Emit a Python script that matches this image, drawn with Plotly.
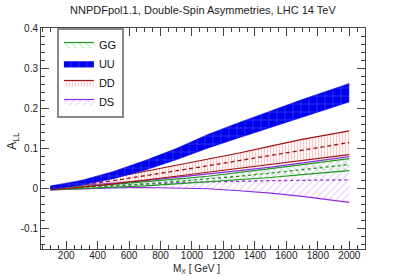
import plotly.graph_objects as go

# ---- data ----
M = [100, 300, 500, 700, 900, 1100, 1300, 1500, 1700, 2000]

UU_c  = [0.003, 0.015, 0.034, 0.058, 0.086, 0.118, 0.146, 0.173, 0.200, 0.239]
UU_lo = [-0.001, 0.009, 0.025, 0.046, 0.072, 0.101, 0.127, 0.152, 0.178, 0.216]
UU_hi = [0.007, 0.021, 0.043, 0.070, 0.100, 0.135, 0.165, 0.194, 0.222, 0.262]

DD_c  = [0.002, 0.010, 0.020, 0.032, 0.045, 0.057, 0.070, 0.083, 0.097, 0.115]
DD_lo = [-0.002, 0.004, 0.012, 0.021, 0.031, 0.041, 0.051, 0.061, 0.071, 0.085]
DD_hi = [0.006, 0.016, 0.028, 0.043, 0.058, 0.073, 0.089, 0.106, 0.123, 0.144]

GG_c  = [0.000, 0.003, 0.007, 0.012, 0.018, 0.024, 0.031, 0.039, 0.047, 0.060]
GG_lo = [-0.003, 0.000, 0.003, 0.007, 0.012, 0.017, 0.022, 0.028, 0.035, 0.045]
GG_hi = [0.003, 0.006, 0.011, 0.017, 0.024, 0.031, 0.040, 0.050, 0.060, 0.075]

DS_c  = [0.000, 0.004, 0.008, 0.012, 0.015, 0.017, 0.019, 0.020, 0.021, 0.022]
DS_lo = [-0.003, 0.000, 0.002, 0.003, 0.002, 0.000, -0.005, -0.011, -0.019, -0.034]
DS_hi = [0.003, 0.008, 0.014, 0.020, 0.028, 0.036, 0.045, 0.054, 0.064, 0.080]

x_ticks = [200, 400, 600, 800, 1000, 1200, 1400, 1600, 1800, 2000]
y_ticks = [-0.1, 0, 0.1, 0.2, 0.3, 0.4]
y_tick_text = ["-0.1", "0", "0.1", "0.2", "0.3", "0.4"]

FONT = "Liberation Sans, Arial, sans-serif"

fig = go.Figure()


def band(name, lo, hi, c, line_col, dash, pat_shape, pat_fg, pat_bg, pat_size,
         pat_sol, rank, edge_width=1.2, center_col=None):
    fig.add_trace(go.Scatter(x=M, y=lo, mode="lines",
                             line=dict(color=line_col, width=edge_width),
                             showlegend=False, hoverinfo="skip"))
    fig.add_trace(go.Scatter(x=M, y=hi, mode="lines", fill="tonexty",
                             fillcolor=pat_bg,
                             fillpattern=dict(shape=pat_shape, fgcolor=pat_fg,
                                              bgcolor=pat_bg, size=pat_size,
                                              solidity=pat_sol),
                             line=dict(color=line_col, width=edge_width),
                             name=name, legendrank=rank, hoverinfo="skip"))
    fig.add_trace(go.Scatter(x=M, y=c, mode="lines",
                             line=dict(color=center_col or line_col, width=1.3,
                                       dash=dash),
                             showlegend=False, hoverinfo="skip"))


band("DS", DS_lo, DS_hi, DS_c, "#8a2be2", "dot", "/", "#d9a0ff",
     "rgba(0,0,0,0)", 5, 0.25, 4)
band("GG", GG_lo, GG_hi, GG_c, "#1f9a1f", "dot", "\\", "#80e080",
     "rgba(0,0,0,0)", 5, 0.25, 1)
band("DD", DD_lo, DD_hi, DD_c, "#a01010", "4px,3px", "|", "#ff8c8c",
     "rgba(0,0,0,0)", 3, 0.4, 3)
band("UU", UU_lo, UU_hi, UU_c, "#0000ee", "solid", "+", "#9fb4ff",
     "#0000ee", 8, 0.12, 2, edge_width=0.5, center_col="rgba(0,0,0,0)")

axis_common = dict(
    showgrid=False, zeroline=False, showline=True, linecolor="#444",
    linewidth=1, mirror="allticks", ticks="inside", tickcolor="#444",
    ticklen=8, tickwidth=1, automargin=False,
    tickfont=dict(family=FONT, size=10, color="#222"),
)

fig.update_xaxes(range=[40, 2100], tickvals=x_ticks,
                 minor=dict(dtick=50, tick0=0, ticklen=4, ticks="inside",
                            tickcolor="#444", tickwidth=1),
                 **axis_common)
fig.update_yaxes(range=[-0.15, 0.4], tickvals=y_ticks, ticktext=y_tick_text,
                 minor=dict(dtick=0.02, tick0=0, ticklen=4, ticks="inside",
                            tickcolor="#444", tickwidth=1),
                 **axis_common)
try:
    fig.update_xaxes(ticklabelstandoff=-3)
except Exception:
    pass

fig.update_layout(
    width=407, height=276,
    margin=dict(l=41, r=42, t=28, b=27, autoexpand=False),
    paper_bgcolor="white", plot_bgcolor="white",
    showlegend=True,
    legend=dict(x=0.049, y=1.0, xanchor="left", yanchor="top",
                bordercolor="#888", borderwidth=2, bgcolor="white",
                font=dict(family=FONT, size=11, color="#111"),
                itemwidth=30, tracegroupgap=0,
                traceorder="normal"),
    annotations=[
        dict(text="NNPDFpol1.1, Double-Spin Asymmetries, LHC 14 TeV",
             xref="paper", yref="paper", x=0.5, y=1, yshift=18,
             xanchor="center", yanchor="middle", showarrow=False,
             font=dict(family=FONT, size=11, color="#222")),
        dict(text="M<sub>X</sub> [ GeV ]", xref="paper", yref="paper",
             x=0.48, y=0, yshift=-20, xanchor="center", yanchor="middle",
             showarrow=False, font=dict(family=FONT, size=10, color="#222")),
        dict(text="A<sub>LL</sub>", xref="paper", yref="paper", x=0,
             xshift=-28, y=0.49, textangle=-90, xanchor="center",
             yanchor="middle", showarrow=False,
             font=dict(family=FONT, size=12, color="#222")),
    ],
)

fig.write_html("out.html",
               config={"displayModeBar": False, "staticPlot": True},
               post_script="document.body.style.margin='0px';"
                           "document.body.style.padding='0px';")
